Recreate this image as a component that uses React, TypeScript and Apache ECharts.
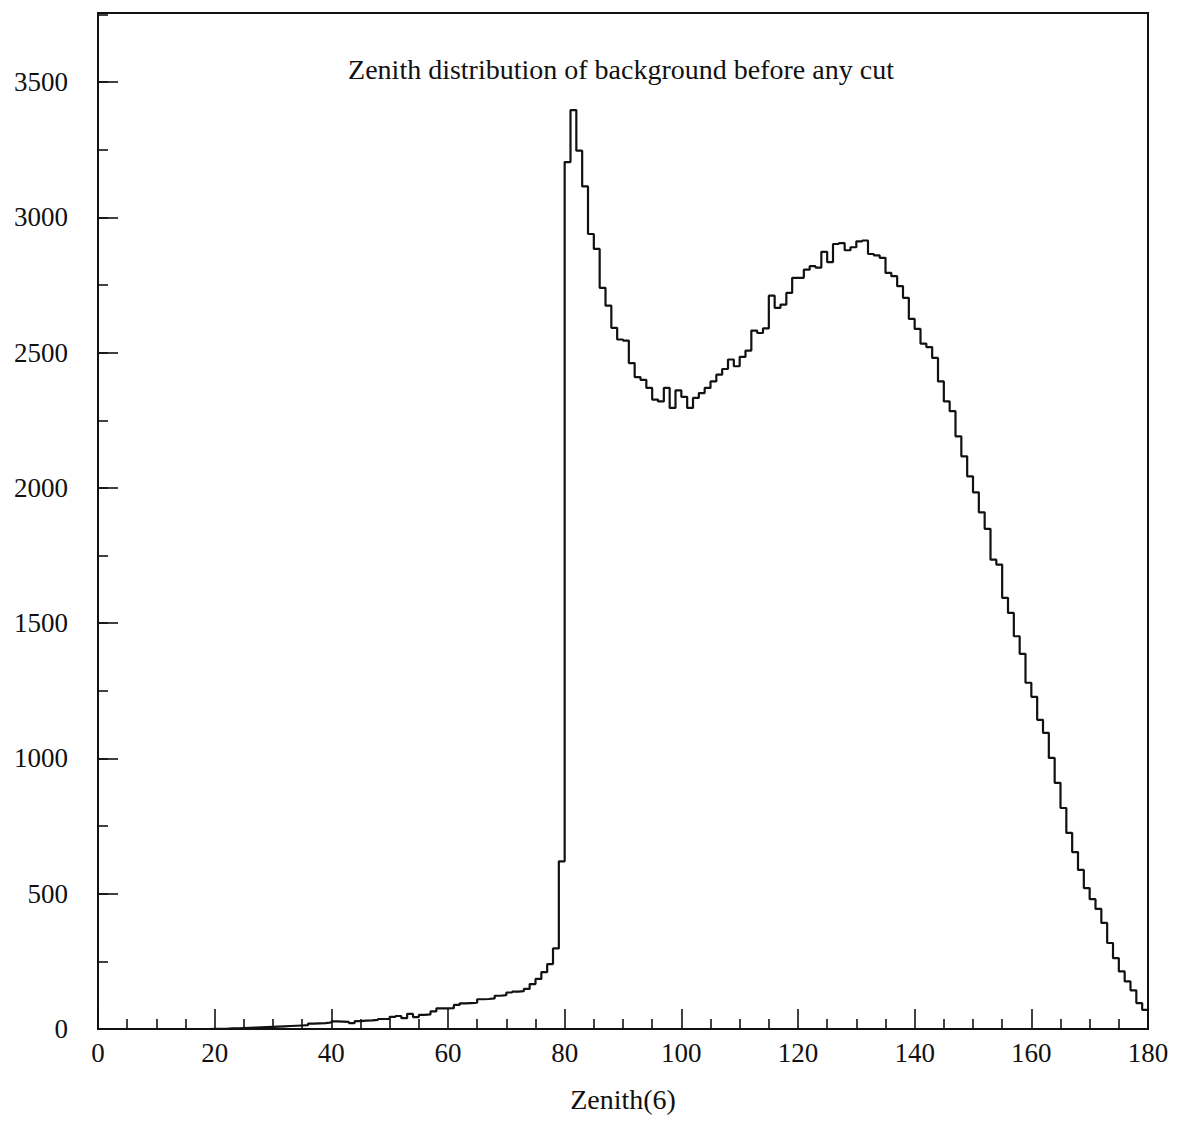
import React, { useEffect, useRef } from "react";
import * as echarts from "echarts";

// Histogram bin contents, 1-degree bins starting at 0
const countsTail = [
  0, 0, 0, 0, 0, 0, 0, 0, 0, 0,
  0, 0, 0, 0, 0, 0, 0, 0, 0, 1,
  1, 1, 2, 2, 3, 4, 5, 6, 7, 8,
  9, 10, 11, 12, 13, 14, 20, 21, 22, 24,
  28, 27, 26, 22, 29, 31, 32, 34, 37, 37,
  45, 48, 40, 56, 44, 52, 54, 65, 76, 76,
  77, 89, 95, 96, 97, 110, 111, 113, 123, 125,
  135, 138, 140, 148, 166, 185, 210, 240, 298, 620,
];
const countsPeak = [
  3205, 3397, 3247, 3115, 2939, 2884, 2740, 2674, 2592, 2549,
  2545, 2462, 2410, 2400, 2370, 2327, 2320, 2370, 2296, 2361,
  2337, 2296, 2333, 2351, 2370, 2394, 2419, 2440, 2475, 2450,
  2485, 2508, 2582, 2573, 2590, 2711, 2666, 2678, 2721, 2777,
];
const countsHump = [
  2777, 2807, 2820, 2815, 2873, 2835, 2902, 2905, 2879, 2890,
  2912, 2915, 2865, 2860, 2851, 2795, 2783, 2746, 2703, 2625,
  2588, 2534, 2521, 2481, 2394, 2320, 2284, 2191, 2117, 2043,
  1984, 1910, 1849, 1735, 1717, 1594, 1538, 1452, 1387, 1280,
  1228, 1143, 1095, 1002, 910, 817, 725, 654, 588, 521,
  480, 444, 392, 318, 262, 213, 176, 143, 96, 71,
];

const xMin = 0;
const xMax = 180;
const binWidth = 1;
const xMajor = 20;
const yMin = 0;
const yMax = 3756;
const yMajor = 500;
const yMinor = 250;

const titleText = "Zenith distribution of background before any cut";
const xName = "Zenith(6)";

const FONT = '"Liberation Serif", "Times New Roman", serif';

export default function App() {
  const ref = useRef<HTMLDivElement>(null);

  useEffect(() => {
    if (!ref.current) return;
    const chart = echarts.init(ref.current, null, { renderer: "svg" });
    const counts = [...countsTail, ...countsPeak, ...countsHump];
    const data: number[][] = counts.map((v, i) => [xMin + i * binWidth, v]);
    data.push([xMin + counts.length * binWidth, counts[counts.length - 1]]);

    const tickStyle = { color: "#111", width: 1.6 };

    chart.setOption({
      animation: false,
      backgroundColor: "#ffffff",
      title: {
        text: titleText,
        left: 616,
        top: 50,
        textAlign: "center",
        textStyle: { fontFamily: FONT, fontSize: 28, fontWeight: "normal", color: "#111" },
      },
      grid: {
        left: 98,
        right: 31,
        top: 13,
        bottom: 119,
        show: true,
        borderColor: "#111",
        borderWidth: 2,
        backgroundColor: "transparent",
      },
      xAxis: [
        {
          type: "value",
          min: xMin,
          max: xMax,
          interval: xMajor,
          name: xName,
          nameLocation: "middle",
          nameGap: 56,
          nameTextStyle: { fontFamily: FONT, fontSize: 28, color: "#111" },
          axisLine: { show: true, lineStyle: { color: "#111", width: 2 } },
          axisTick: { show: true, inside: true, length: 20, lineStyle: tickStyle },
          minorTick: { show: true, splitNumber: 4, length: 10, lineStyle: tickStyle },
          axisLabel: { fontFamily: FONT, fontSize: 27, color: "#111", margin: 10 },
          splitLine: { show: false },
          minorSplitLine: { show: false },
        },
      ],
      yAxis: [
        {
          type: "value",
          min: yMin,
          max: yMax,
          interval: yMajor,
          axisLine: { show: true, lineStyle: { color: "#111", width: 2 } },
          axisTick: { show: true, inside: true, length: 20, lineStyle: tickStyle },
          axisLabel: {
            fontFamily: FONT,
            fontSize: 27,
            color: "#111",
            margin: 30,
            showMaxLabel: false,
            formatter: (v: number) => String(v),
          },
          splitLine: { show: false },
        },
        {
          type: "value",
          position: "left",
          min: yMin,
          max: yMax,
          interval: yMinor,
          axisLine: { show: false },
          axisTick: { show: true, inside: true, length: 10, lineStyle: tickStyle },
          axisLabel: { show: false },
          splitLine: { show: false },
        },
      ],
      series: [
        {
          type: "line",
          step: "end",
          data,
          xAxisIndex: 0,
          yAxisIndex: 0,
          showSymbol: false,
          symbol: "none",
          lineStyle: { color: "#111", width: 2.2 },
          silent: true,
        },
      ],
    });
    return () => chart.dispose();
  }, []);

  return (
    <div
      ref={ref}
      style={{ position: "fixed", left: 0, top: 0, width: 1179, height: 1148, background: "#fff" }}
    />
  );
}
